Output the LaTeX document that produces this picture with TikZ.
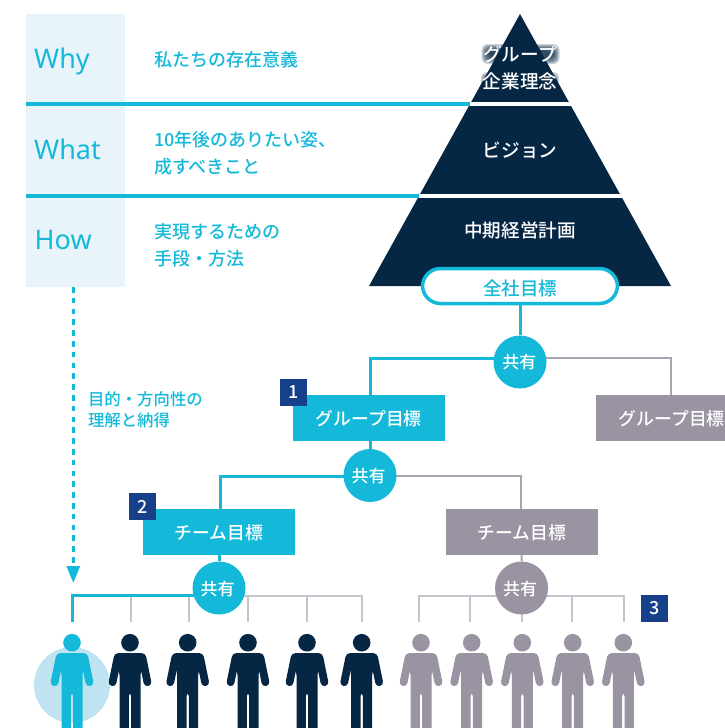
\documentclass[tikz,border=0pt]{standalone}
\usepackage{fontspec}
\setmainfont{Noto Sans CJK JP Medium}
\newfontfamily\latinf{Noto Sans}
\usetikzlibrary{arrows.meta,backgrounds}
\definecolor{teal1}{HTML}{14B9DA}
\definecolor{navy1}{HTML}{052744}
\definecolor{gray1}{HTML}{9A94A2}
\definecolor{gray2}{HTML}{A8A5B0}
\definecolor{gray3}{HTML}{C5C4CD}
\definecolor{pale1}{HTML}{E8F4FA}
\definecolor{pale2}{HTML}{BFE3F0}
\definecolor{badge1}{HTML}{17408B}
\newcommand\dn[2][1]{\raisebox{-#1pt}[\height][\depth]{#2}}
\tikzset{
  x=1pt,y=-1pt,
  jp/.style={font=\fontsize{17.8}{27}\selectfont,inner sep=0pt,outer sep=0pt},
  lefttext/.style={jp,font=\fontsize{18}{27}\selectfont,anchor=west,align=left,text=teal1},
  wlabel/.style={anchor=west,inner sep=0pt,text=teal1,font=\latinf\fontsize{27}{27}\selectfont},
  pyrtext/.style={jp,font=\fontsize{18.6}{27.5}\selectfont,text=white,align=center},
  bluebox/.style={jp,fill=teal1,text=white,minimum width=151.5pt,minimum height=46pt},
  graybox/.style={jp,fill=gray1,text=white,minimum width=151.5pt,minimum height=46pt},
  sharec/.style={circle,fill=teal1,text=white,minimum size=53pt,inner sep=0pt,font=\fontsize{17}{17}\selectfont},
  sharegray/.style={sharec,fill=gray1},
  badge/.style={fill=badge1,text=white,minimum size=27pt,inner sep=0pt,font=\fontsize{18}{18}\selectfont},
  tealline/.style={draw=teal1,line width=3pt},
  grayline/.style={draw=gray2,line width=2pt},
  droptl/.style={draw=gray3,line width=2pt},
  rule/.style={draw=teal1,line width=4pt},
  person/.pic={
    \fill (0,0) circle (8.8);
    \fill[rounded corners=3.5pt] (-15.5,10.5) -- (15.5,10.5) -- (16,20) -- (10.5,29) -- (10.5,90) -- (1.2,90) -- (1.2,50) -- (-1.2,50) -- (-1.2,90) -- (-10.5,90) -- (-10.5,29) -- (-16,20) -- cycle;
    \draw[line width=7.8pt,line cap=round,line join=round] (-12.4,15) -- (-17.4,39.5);
    \draw[line width=7.8pt,line cap=round,line join=round] (12.4,15) -- (17.4,39.5);
  }
}
\begin{document}
\begin{tikzpicture}
\useasboundingbox (0,0) rectangle (725,728);
\begin{scope}
\clip (0,0) rectangle (725,728);
% left pale column
\node[fill=pale1,minimum width=99pt,minimum height=273pt,inner sep=0pt,anchor=north west] (col) at (25.6,14) {};
% pyramid
\fill[navy1] (520,14) -- (671,286) -- (369,286) -- cycle;
\coordinate (r1a) at (26,104); \coordinate (r1b) at (470,104); \coordinate (r1c) at (573,104);
\coordinate (r2a) at (26,196); \coordinate (r2b) at (419,196); \coordinate (r2c) at (624,196);
\draw[white,line width=4pt] (r1b) -- (r1c);
\draw[white,line width=4pt] (r2b) -- (r2c);
\draw[rule] (r1a) -- (r1b);
\draw[rule] (r2a) -- (r2b);
% left labels
\node[wlabel] (why) at (34,61) {Why};
\node[wlabel] (what) at (34,149.5) {What};
\node[wlabel] (how) at (34.5,240) {How};
\node[lefttext] (t1) at (154,60) {私たちの存在意義};
\node[lefttext] (t2) at (154,153.5) {10年後のありたい姿、\\成すべきこと};
\node[lefttext] (t3) at (154,245.5) {実現するための\\手段・方法};
\node[lefttext,font=\fontsize{16.4}{21}\selectfont] (t4) at (88,409.5) {目的・方向性の\\理解と納得};
% soft halo behind the text that runs past the apex
\foreach \g in {4,3,2,1,0,-1,-2,-3} {
  \fill[navy1,opacity=.2,rounded corners=6pt] (485.5-\g,48-\g) rectangle (555.5+\g,60+\g);
  \fill[navy1,opacity=.2,rounded corners=6pt] (485-\g,76-\g) rectangle (555+\g,88);
}
% pyramid text
\node[pyrtext] (p1) at (520,68) {グループ\\企業理念};
\node[pyrtext] (p2) at (520,150) {ビジョン};
\node[pyrtext] (p3) at (520,230) {中期経営計画};
\node[jp,draw=teal1,line width=3.5pt,fill=white,text=teal1,rounded corners=18pt,minimum width=195pt,minimum height=35pt,font=\fontsize{18.5}{27}\selectfont] (pill) at (520,286) {\dn[2.5]{全社目標}};
% share circles and boxes
\node[sharec] (c1) at (520,362) {\dn[0.5]{共有}\kern1.5pt};
\node[bluebox] (b1) at (368.75,418) {\dn{グループ目標}};
\node[graybox] (b2) at (671.75,418) {\dn{グループ目標}};
\node[sharec] (c2) at (370,475.5) {\dn{共有}\kern3pt};
\node[bluebox] (b3) at (219,532) {\dn{チーム目標}};
\node[graybox] (b4) at (521.75,532) {\dn{チーム目標}};
\node[sharec] (c3) at (219,588) {\dn{共有}\kern3pt};
\node[sharegray] (c4) at (521.5,588) {\dn{共有}\kern3pt};
\node[badge] (n1) at (293.5,392.5) {1};
\node[badge] (n2) at (142.5,506.5) {2};
\node[badge] (n3) at (654.5,608.5) {3};
% people
\fill[pale2] (72,685) circle (38);
\foreach \x in {130,187.7,248,307,361.7} \pic[navy1,draw=navy1,fill=navy1] at (\x,642.7) {person};
\foreach \x in {421,471.7,522.3,572.7,623.3} \pic[gray1,draw=gray1,fill=gray1] at (\x,642.7) {person};
\pic[teal1,draw=teal1,fill=teal1] at (72,642.7) {person};
% connectors
\begin{scope}[on background layer]
\coordinate (k1) at (370,358);
\coordinate (k2) at (671,358);
\coordinate (k3) at (220,476);
\coordinate (k4) at (521,476);
\draw[tealline] (pill.south) -- (c1.north);
\draw[tealline] (c1.center |- k1) -- (k1) -- (b1.north -| k1);
\draw[grayline] (c1.center |- k2) -- (k2) -- (b2.north -| k2);
\draw[tealline] (b1.south -| c2) -- (c2.north);
\draw[tealline] (c2.center |- k3) -- (k3) -- (b3.north -| k3);
\draw[grayline] (c2.center |- k4) -- (k4) -- (b4.north -| k4);
\draw[tealline] (b3.south) -- (c3.north);
\draw[grayline] (b4.south) -- (c4.north);
\coordinate (bar) at (0,595.5);
\foreach \i/\x in {2/130.7,3/189,4/248,5/307,6/361.7} {
  \coordinate (d\i) at (\x,622);
  \draw[droptl] (d\i) -- (d\i |- bar);
}
\draw[droptl] (c3.center |- bar) -- (d6 |- bar) -- (d6);
\foreach \i/\x in {1/419,2/470,3/521.5,4/572.3,5/624} {
  \coordinate (e\i) at (\x,622);
  \draw[droptl] (e\i) -- (e\i |- bar);
}
\draw[droptl] (e1) -- (e1 |- bar) -- (e5 |- bar) -- (e5);
\coordinate (d1) at (72.5,622);
\draw[tealline] (d1) -- (d1 |- bar) -- (c3.center |- bar);
\end{scope}
% dashed arrow
\coordinate (a1) at (73.3,287);
\coordinate (a2) at (73.3,583);
\draw[teal1,line width=3pt,dash pattern=on 5.5pt off 5.3pt,-{Triangle[length=17pt,width=13pt]}] (a1) -- (a2);
\end{scope}
\end{tikzpicture}
\end{document}
